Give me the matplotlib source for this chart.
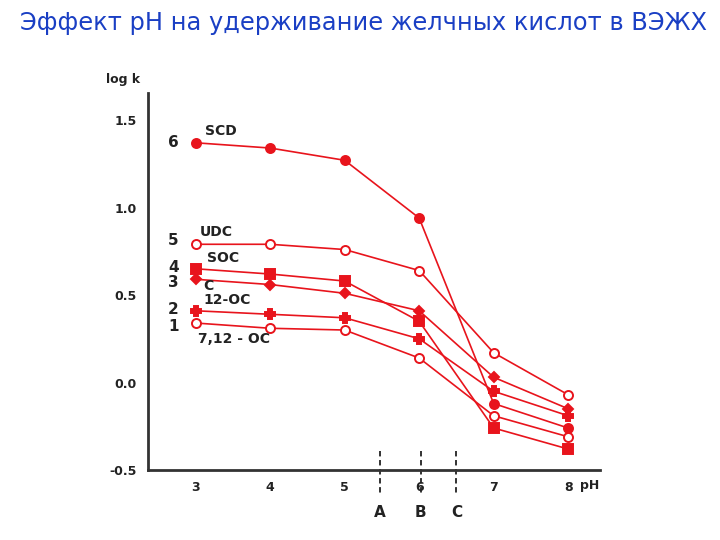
import matplotlib
matplotlib.use("Agg")
import matplotlib.pyplot as plt

# pH values and log k for each bile acid
ph = [3, 4, 5, 6, 7, 8]
scd = [1.37, 1.34, 1.27, 0.94, -0.12, -0.26]
udc = [0.79, 0.79, 0.76, 0.64, 0.17, -0.07]
soc = [0.65, 0.62, 0.58, 0.35, -0.26, -0.38]
c_acid = [0.59, 0.56, 0.51, 0.41, 0.03, -0.15]
oc12 = [0.41, 0.39, 0.37, 0.25, -0.05, -0.19]
oc712 = [0.34, 0.31, 0.30, 0.14, -0.19, -0.31]

yticks = [-0.5, 0.0, 0.5, 1.0, 1.5]
ytick_labels = ["-0.5", "0.0", "0.5", "1.0", "1.5"]
zones = [5.47, 6.02, 6.50]
zone_labels = ["A", "B", "C"]

RED = "#e8141c"
fig = plt.figure(figsize=(7.2, 5.4), dpi=100)
ax = fig.add_axes([0.2056, 0.1296, 0.628, 0.698])

series = [
    (scd, "o", RED),
    (udc, "o", "white"),
    (soc, "s", RED),
    (c_acid, "D", RED),
    (oc12, "P", RED),
    (oc712, "o", "white"),
]
for vals, mk, fc in series:
    ax.plot(ph, vals, color=RED, lw=1.2, marker=mk, ms=6.5 if mk != "D" else 5.5,
            mfc=fc, mec=RED, mew=1.4)

for z in zones:
    ax.plot([z, z], [-0.39, -0.65], color="#222222", lw=1.3, ls=(0, (3, 2)),
            clip_on=False)
for z, lab in zip(zones, zone_labels):
    ax.text(z, -0.745, lab, ha="center", va="center", fontsize=11,
            fontweight="bold", color="#222222")

# curve numbers and names
nums = [("6", 1.374), ("5", 0.81), ("4", 0.66), ("3", 0.57), ("2", 0.42), ("1", 0.32)]
for n, y in nums:
    ax.text(2.70, y, n, ha="center", va="center", fontsize=11,
            fontweight="bold", color="#222222")
names = [("SCD", 3.13, 1.437), ("UDC", 3.06, 0.86), ("SOC", 3.15, 0.71),
         ("C", 3.10, 0.55), ("12-OC", 3.11, 0.47), ("7,12 - OC", 3.03, 0.25)]
for t, x, y in names:
    ax.text(x, y, t, ha="left", va="center", fontsize=10,
            fontweight="bold", color="#222222")

ax.set_xlim(2.36, 8.43)
ax.set_ylim(-0.5, 1.654)
ax.set_xticks(ph)
ax.set_xticklabels([str(p) for p in ph], fontsize=9, fontweight="bold",
                   color="#222222")
ax.set_yticks(yticks)
ax.set_yticklabels(ytick_labels, fontsize=9, fontweight="bold", color="#222222")
ax.tick_params(length=0, pad=8)
for s in ["top", "right"]:
    ax.spines[s].set_visible(False)
for s in ["left", "bottom"]:
    ax.spines[s].set_color("#333333")
    ax.spines[s].set_linewidth(2)

fig.text(123 / 720, 1 - 80 / 540, "log k", ha="center", va="center",
         fontsize=9, fontweight="bold", color="#222222")
fig.text(590 / 720, 1 - 485 / 540, "pH", ha="center", va="center",
         fontsize=9, fontweight="bold", color="#222222")

fig.text(364 / 720, 1 - 23 / 540, "Эффект pH на удерживание желчных кислот в ВЭЖХ",
         ha="center", va="center", fontsize=17.4, color="#1a3fc4")

fig.savefig("out.png", dpi=100)
